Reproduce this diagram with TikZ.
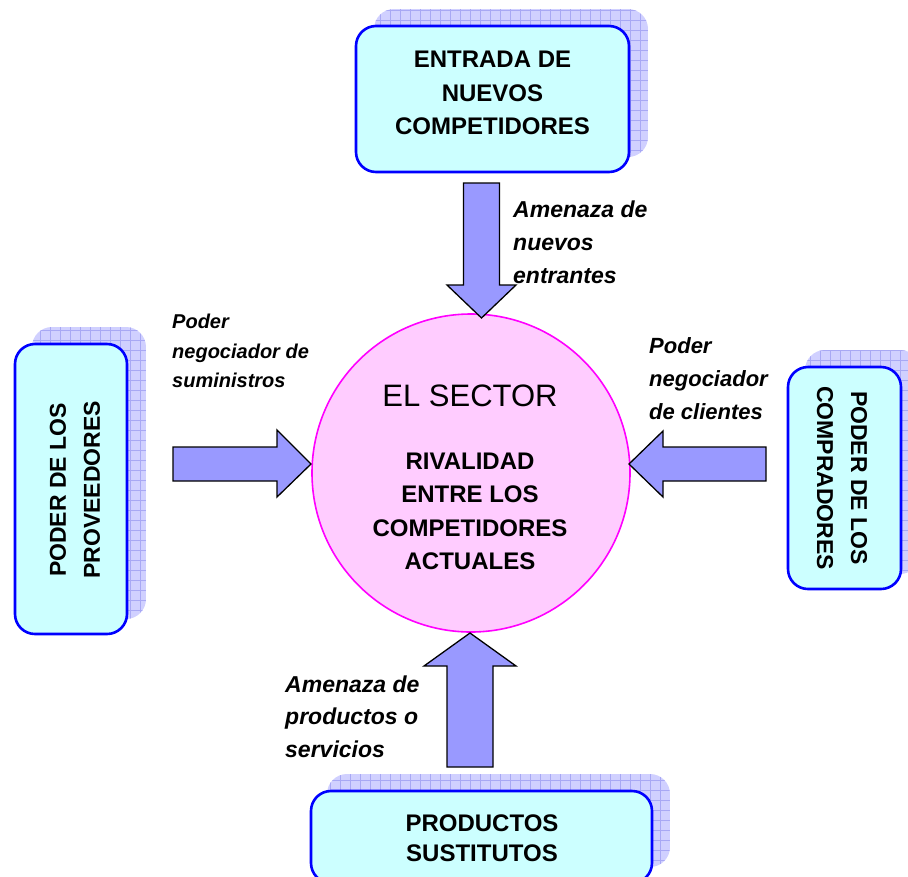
\documentclass[tikz,border=0pt]{standalone}
\usepackage{fontspec}
\setmainfont{Liberation Sans}
\definecolor{boxfill}{HTML}{CCFFFF}
\definecolor{boxline}{HTML}{0000FF}
\definecolor{circfill}{HTML}{FFCCFF}
\definecolor{circline}{HTML}{FF00FF}
\definecolor{arrfill}{HTML}{9999FF}
\definecolor{shfill}{HTML}{D0D0FF}
\definecolor{shgrid}{HTML}{A8A8F4}
\newcommand\gridshadow[4]{%
  \begin{scope}
    \clip[rounded corners=20pt] (#1,#2) rectangle (#3,#4);
    \fill[shfill] (#1,#2) rectangle (#3,#4);
    \draw[shgrid, line width=0.5pt, step=10pt] (#1,#4) grid (#3,#2);
  \end{scope}}
\begin{document}
\begin{tikzpicture}[x=1pt,y=-1pt,
  boxstyle/.style={draw=boxline, fill=boxfill, line width=2.6pt, rounded corners=20pt, inner sep=0pt},
  boxtext/.style={align=center, inner sep=0pt, font=\fontsize{24}{33.5}\selectfont\bfseries},
  sidetext/.style={align=center, inner sep=0pt, font=\fontsize{23}{34}\selectfont\bfseries},
  labeltext/.style={align=left, inner sep=0pt, anchor=north west, font=\fontsize{23}{33}\selectfont\bfseries\itshape},
  smalllabel/.style={align=left, inner sep=0pt, anchor=north west, font=\fontsize{20}{29.5}\selectfont\bfseries\itshape},
  blockarrow/.style={draw=black, fill=arrfill, line width=1.3pt, line join=miter}]
\useasboundingbox (0,0) rectangle (908,876);
\clip (0,0) rectangle (908,876);
% shadows
\gridshadow{374}{9}{648}{157}
\gridshadow{32}{327}{146}{619}
\gridshadow{805}{350}{920}{574}
\gridshadow{327}{774}{670}{867}
% boxes
\node[boxstyle, minimum width=273pt, minimum height=146pt] (entrada) at (492.5,99) {};
\node[boxstyle, minimum width=112pt, minimum height=290pt] (proveedores) at (71,489) {};
\node[boxstyle, minimum width=113pt, minimum height=222pt] (compradores) at (844.5,478) {};
\node[boxstyle, minimum width=341pt, minimum height=92pt] (sustitutos) at (481.5,837) {};
% circle
\node[circle, draw=circline, fill=circfill, line width=1.6pt, minimum size=318pt, inner sep=0pt] (sector) at (471,473) {};
% block arrows
\draw[blockarrow] (463.5,183) -- (499.5,183) -- (499.5,285) -- (516,285) -- (481.5,318) -- (447,285) -- (463.5,285) -- cycle;
\draw[blockarrow] (173,447) -- (277,447) -- (277,430) -- (311,464) -- (277,497) -- (277,481) -- (173,481) -- cycle;
\draw[blockarrow] (766,447) -- (663,447) -- (663,431) -- (629,464) -- (663,497) -- (663,481) -- (766,481) -- cycle;
\draw[blockarrow] (447,767) -- (447,666) -- (424,666) -- (470,633) -- (516,666) -- (493,666) -- (493,767) -- cycle;
% texts
\node[boxtext] (entradatxt) at (492.5,93) {ENTRADA DE\\NUEVOS\\COMPETIDORES};
\node[sidetext, rotate=90] (provtxt) at (75,490) {PODER DE LOS\\PROVEEDORES};
\node[sidetext, rotate=-90] (comptxt) at (842,478) {PODER DE LOS\\COMPRADORES};
\node[boxtext, font=\fontsize{24}{30}\selectfont\bfseries] (sustxt) at (482,838.5) {PRODUCTOS\\SUSTITUTOS};
\node[inner sep=0pt, anchor=base, font=\fontsize{31}{36}\selectfont] (sectortxt) at (470,406) {EL SECTOR};
\node[boxtext, font=\fontsize{24}{33.3}\selectfont\bfseries] (rivaltxt) at (470,511.4) {RIVALIDAD\\ENTRE LOS\\COMPETIDORES\\ACTUALES};
\node[labeltext] (lbltop) at (513,201) {Amenaza de\\nuevos\\entrantes};
\node[smalllabel] (lblleft) at (172,314) {Poder\\negociador de\\suministros};
\node[labeltext, font=\fontsize{22}{33}\selectfont\bfseries\itshape] (lblright) at (649,337) {Poder\\negociador\\de clientes};
\node[labeltext, font=\fontsize{23}{32.5}\selectfont\bfseries\itshape] (lblbottom) at (285,675.5) {Amenaza de\\productos o\\servicios};
\end{tikzpicture}
\end{document}
